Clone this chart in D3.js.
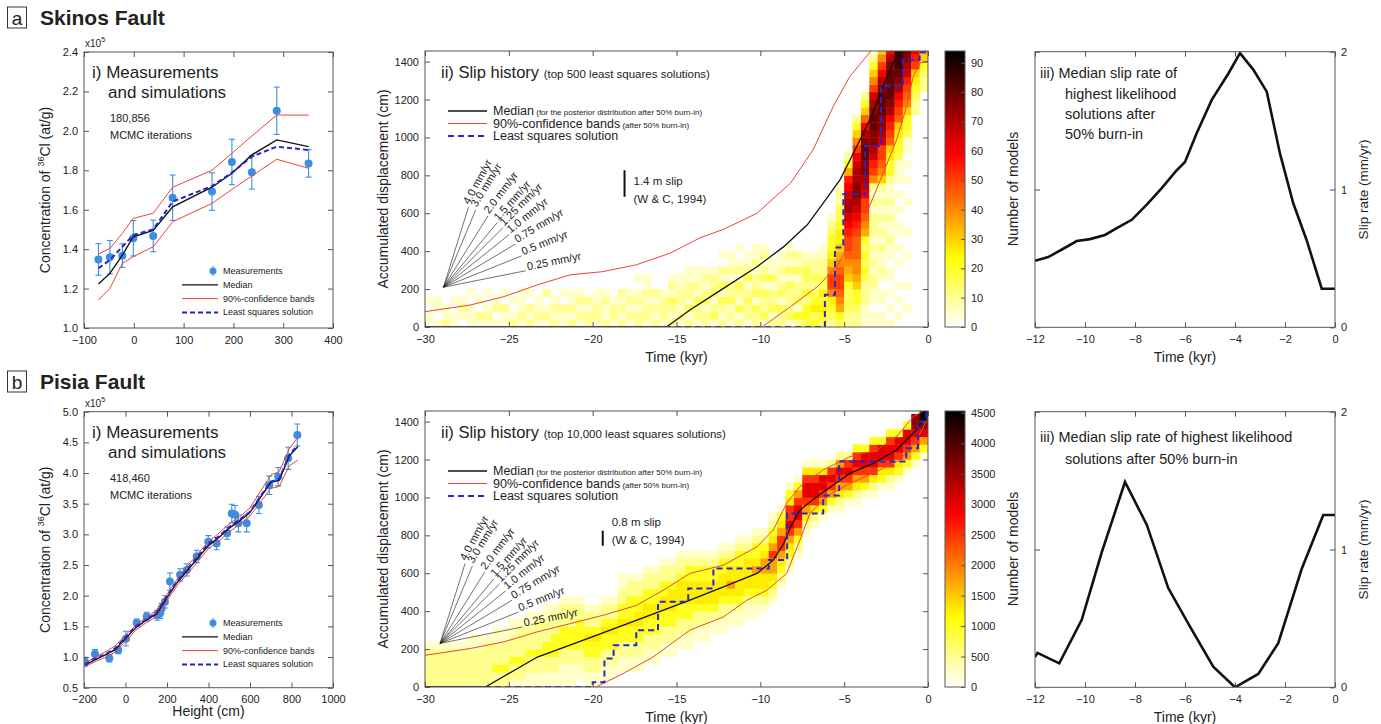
<!DOCTYPE html>
<html>
<head>
<meta charset="utf-8">
<script src="https://cdn.jsdelivr.net/npm/d3@7"></script>
<style>
  body { margin: 0; background: #fff; }
  svg text { font-family: "Liberation Sans", Arial, Helvetica, sans-serif; fill: #222; }
</style>
</head>
<body>
<svg id="fig" width="1381" height="724"></svg>
<script>
// ---------------- a) Skinos Fault ----------------
// i) 36Cl measurements
const skinosHeight = [-71, -48, -23, -1, 39, 78, 157, 197, 237, 287, 351];
const skinosConc   = [1.348, 1.359, 1.367, 1.455, 1.467, 1.661, 1.692, 1.842, 1.790, 2.102, 1.835];
const skinosErr    = [0.08, 0.085, 0.06, 0.09, 0.08, 0.115, 0.095, 0.115, 0.085, 0.12, 0.07];
// i) modelled concentration profiles
const skinosModelHeight = [-71, -48, -23, -1, 39, 78, 157, 197, 237, 287, 351];
const skinosMedian = [1.223, 1.277, 1.37, 1.463, 1.495, 1.615, 1.714, 1.785, 1.878, 1.954, 1.92];
const skinosLsq    = [1.303, 1.345, 1.412, 1.472, 1.50, 1.641, 1.72, 1.788, 1.869, 1.92, 1.903];
const skinosUpper  = [1.375, 1.404, 1.48, 1.556, 1.582, 1.714, 1.80, 1.886, 1.974, 2.08, 2.08];
const skinosLower  = [1.142, 1.201, 1.328, 1.362, 1.412, 1.539, 1.632, 1.703, 1.771, 1.856, 1.81];

// ii) slip history curves (time in kyr, displacement in cm)
const skinosMedT = [-30, -15.6, -14.2, -12.2, -10.2, -8.6, -7.2, -6.25, -5.25, -4.45, -3.47, -2.67, -2.08, -1.6];
const skinosMedV = [0, 0, 90, 204, 318, 424, 539, 653, 776, 917, 1093, 1269, 1393, 1456];
const skinosUpT  = [-30, -27.3, -25.3, -23.3, -21.35, -19.4, -17.4, -15.4, -13.6, -12.2, -10.2, -8.2, -6.85, -5.65, -4.66, -3.4];
const skinosUpV  = [81, 116, 160, 222, 275, 292, 328, 389, 470, 515, 600, 759, 935, 1164, 1322, 1456];
const skinosLoT  = [-30, -9.9, -8.2, -6.6, -5.45, -4.66, -3.66, -2.67, -1.87, -1.28, -0.88, -0.48, 0];
const skinosLoV  = [0, 0, 107, 213, 318, 442, 600, 812, 988, 1164, 1322, 1393, 1401];
const skinosLsqT = [-30, -6.15, -5.55, -5.05, -3.75, -2.8, -1.5, -0.5, 0];
const skinosLsqV = [0, 170, 420, 700, 955, 1270, 1410, 1450, 1450];

// ii) model counts: one entry per 0.5 kyr column from -30 kyr, "firstRow:levels";
// each level digit (base 36) is one 40 cm row, in units of 5 models
const skinosCounts = [
  "0:1101", "0:1011", "0:211", "0:1101", "0:0121", "0:11101", "0:1201", "0:12101", "0:1021", "0:11201",
  "0:2101", "0:12111", "0:21201", "0:1211", "0:12102", "0:2121", "0:11201", "0:21211", "0:12121", "0:2212",
  "0:12211", "0:21121", "0:1221", "0:21212", "0:12121", "0:2212101", "0:1221211", "0:21212", "0:12221", "0:2123121",
  "0:1212211", "0:21312211", "0:12231211", "0:22132121", "0:13213221", "0:2123131201", "0:1213221211", "0:21312312101", "0:1223213211", "0:22313221211",
  "0:13223132121", "0:213221311", "0:2231321211", "0:13222313121", "0:2413221312", "0:3442423321", "0:4354323221", "0:34545332211",
  "0:23458aa86544321",
  "0:34789aa987655433221",
  "0:2233346789aabcdeedcb742",
  "0:223446788999abcdeffeedca8642",
  "0:111222343434789aacdeffggfec9642",
  "0:11011221212122212128abdeffggfeda8642",
  "0:1101101211212121212689aadeffgggfeca86",
  "0:1010101101121121211244569abcefggggfec",
  "0:0101010010101101010111344569abcefghhh",
  "0:0010010001001000100101011344689abdefg",
  "28:223456abc", "31:223467"
];
const skinosCountUnit = 5;
const skinosCountMax = 94;
const skinosCbarTicks = [0, 10, 20, 30, 40, 50, 60, 70, 80, 90];

// iii) median slip rate
const skinosRateT = [-12, -11.47, -10.87, -10.33, -9.8, -9.2, -8.73, -8.13, -7.53, -6.93, -6.33, -6.0, -5.53, -4.93, -4.27, -3.8, -3.27, -2.73, -2.2, -1.67, -1.13, -0.53, 0];
const skinosRate  = [0.483, 0.51, 0.57, 0.626, 0.64, 0.67, 0.72, 0.78, 0.89, 1.01, 1.14, 1.20, 1.41, 1.65, 1.84, 1.99, 1.87, 1.71, 1.26, 0.90, 0.63, 0.28, 0.28];

// ---------------- b) Pisia Fault ----------------
const pisiaHeight = [-195, -147, -78, -35, 2, 54, 102, 153, 166, 174, 190, 214, 263, 295, 343, 399, 439, 490, 512, 528, 544, 584, 643, 693, 736, 784, 828];
const pisiaConc   = [0.924, 1.05, 0.98, 1.115, 1.30, 1.56, 1.66, 1.68, 1.71, 1.79, 1.90, 2.23, 2.34, 2.42, 2.64, 2.88, 2.85, 3.02, 3.34, 3.32, 3.18, 3.18, 3.48, 3.80, 3.94, 4.24, 4.62];
const pisiaErr    = [0.07, 0.07, 0.06, 0.06, 0.12, 0.06, 0.07, 0.08, 0.08, 0.08, 0.1, 0.14, 0.1, 0.1, 0.1, 0.1, 0.1, 0.1, 0.15, 0.15, 0.14, 0.14, 0.14, 0.15, 0.15, 0.18, 0.18];
const pisiaModelHeight = [-195, -150, -100, -50, 0, 50, 100, 150, 200, 250, 300, 350, 400, 450, 500, 550, 600, 650, 700, 740, 790, 830];
const pisiaMedian = [0.87, 0.95, 1.03, 1.12, 1.30, 1.48, 1.60, 1.70, 1.97, 2.22, 2.42, 2.62, 2.82, 2.95, 3.10, 3.22, 3.36, 3.60, 3.85, 3.88, 4.28, 4.43];
const pisiaLsq    = [0.88, 0.97, 1.04, 1.14, 1.32, 1.50, 1.61, 1.72, 1.99, 2.24, 2.44, 2.65, 2.85, 2.97, 3.12, 3.24, 3.37, 3.62, 3.86, 3.90, 4.30, 4.45];
const pisiaUpper  = [0.90, 0.99, 1.08, 1.18, 1.36, 1.52, 1.65, 1.76, 2.02, 2.28, 2.49, 2.69, 2.88, 3.02, 3.17, 3.29, 3.43, 3.70, 3.97, 4.02, 4.40, 4.58];
const pisiaLower  = [0.84, 0.92, 0.99, 1.08, 1.25, 1.44, 1.56, 1.66, 1.92, 2.17, 2.36, 2.56, 2.77, 2.89, 3.04, 3.16, 3.30, 3.52, 3.75, 3.78, 4.12, 4.21];

const pisiaMedT = [-30, -26.4, -23.3, -20.55, -17.4, -14.2, -12.2, -10.2, -9.23, -8.6, -8.2, -7.64, -6.64, -5.65, -4.66, -3.27, -1.87, -0.68, -0.08];
const pisiaMedV = [0, 0, 158, 247, 352, 458, 528, 599, 669, 757, 845, 933, 1004, 1066, 1127, 1180, 1250, 1356, 1444];
const pisiaUpT  = [-30, -27.3, -25.3, -23.3, -21.3, -19.3, -17.4, -15.8, -14.2, -12.2, -10.2, -9.23, -8.43, -7.64, -6.25, -4.66, -3.07, -1.87, -0.88, -0.3];
const pisiaUpV  = [167, 203, 238, 291, 335, 380, 430, 510, 599, 643, 740, 828, 969, 1057, 1145, 1215, 1250, 1321, 1426, 1456];
const pisiaLoT  = [-30, -19.8, -18.2, -16.4, -14.2, -12.2, -10.8, -9.6, -8.43, -7.64, -7.04, -6.05, -4.66, -3.07, -1.67, -0.68, 0];
const pisiaLoV  = [0, 0, 70, 158, 300, 370, 458, 511, 599, 775, 916, 1004, 1074, 1136, 1198, 1303, 1420];
const pisiaLsqT = [-30, -20.0, -19.3, -18.75, -17.4, -16.1, -14.3, -12.8, -9.5, -8.4, -6.25, -5.3, -1.3, -0.6, -0.1, 0];
const pisiaLsqV = [0, 25, 150, 220, 300, 450, 520, 625, 670, 915, 1010, 1190, 1260, 1400, 1450, 1450];

// model counts, level digits (base 36) in units of 250 models
const pisiaCounts = [
  "0:222221", "0:222221", "0:222221", "0:222221", "0:222221", "0:2222211", "0:2222211", "0:2222221", "0:22422211", "0:22422211",
  "0:122422211", "0:122422221", "0:1122422211", "0:1122422221", "0:11224422211", "0:11224442221", "0:111224442221", "0:111224442221", "0:011224444221", "0:11224454221",
  "0:11224454221", "1:11224454221", "1:11224454221", "2:1122445442211", "2:1122445444221", "2:1122445544221", "3:1122445544221", "3:1122445544221", "4:1122445544221", "4:1122445554221",
  "5:1122445554221", "5:1122445554421", "6:112245554421", "6:112245554421", "7:11245554421", "7:112245554421", "8:11245755421", "8:112455554421", "9:11245555421", "9:112455754421",
  "10:12455775421", "11:124577a75421", "13:12457aa7541", "15:12457acaa541", "17:1247acca741", "20:1257acca51", "21:125acca51", "22:147acc51", "23:147aca2", "23:1257ac72",
  "24:147aca2", "24:1257aca4", "25:147acc4", "25:125acca4", "26:145acc4", "26:125acca4", "27:145acc4", "28:147acc4", "29:147acee", "30:147ceii"
];
const pisiaCountUnit = 250;
const pisiaCountMax = 4530;
const pisiaCbarTicks = [0, 500, 1000, 1500, 2000, 2500, 3000, 3500, 4000, 4500];

const pisiaRateT = [-12, -11.9, -11.03, -10.13, -9.33, -8.4, -7.53, -6.67, -5.8, -4.87, -4.0, -3.07, -2.27, -1.33, -0.47, 0];
const pisiaRate  = [0.22, 0.25, 0.174, 0.49, 0.98, 1.49, 1.18, 0.72, 0.44, 0.15, 0.0, 0.097, 0.32, 0.86, 1.25, 1.25];

// reference slip-rate fan
const fanRates  = [4.0, 3.0, 2.0, 1.5, 1.25, 1.0, 0.75, 0.5, 0.25];
const fanLabels = ["4.0 mm/yr", "3.0 mm/yr", "2.0 mm/yr", "1.5 mm/yr", "1.25 mm/yr", "1.0 mm/yr", "0.75 mm/yr", "0.5 mm/yr", "0.25 mm/yr"];

// axis ticks
const slipTimeTicks = [-30, -25, -20, -15, -10, -5, 0];
const slipDispTicks = [0, 200, 400, 600, 800, 1000, 1200, 1400];
const rateTimeTicks = [-12, -10, -8, -6, -4, -2, 0];
const rateTicks = [0, 1, 2];
const skinosHeightTicks = [-100, 0, 100, 200, 300, 400];
const skinosConcTicks = [1.0, 1.2, 1.4, 1.6, 1.8, 2.0, 2.2, 2.4];
const pisiaHeightTicks = [-200, 0, 200, 400, 600, 800, 1000];
const pisiaConcTicks = [0.5, 1.0, 1.5, 2.0, 2.5, 3.0, 3.5, 4.0, 4.5, 5.0];

// ------------------------------------------------------------------
const svg = d3.select("#fig");
const defs = svg.append("defs");
const BIN_T0 = -30, BIN_DT = 0.5, BIN_DV = 40;
const FAN_ASPECT = 0.8, FAN_LEN = 84;
const RED = "#e8463c", BLUE = "#2626c9", DOT = "#3b8fe0";

// reversed "hot" colormap: white -> yellow -> red -> black
function hotR(t) {
  const s = 1 - Math.max(0, Math.min(1, t));
  const r = Math.min(1, s / 0.375);
  const g = Math.max(0, Math.min(1, (s - 0.375) / 0.375));
  const b = Math.max(0, Math.min(1, (s - 0.75) / 0.25));
  return d3.rgb(Math.round(r * 255), Math.round(g * 255), Math.round(b * 255)).toString();
}

function frame(g, xs, ys, o) {
  const [x0, x1] = xs.range(), [y0, y1] = ys.range();
  const ax = g.append("g");
  const xf = o.xf || d3.format("d"), yf = o.yf || d3.format("d");
  ax.append("g").attr("transform", `translate(0,${y0})`)
    .call(d3.axisBottom(xs).tickValues(o.xt).tickSize(-5).tickPadding(8).tickFormat(xf));
  ax.append("g").attr("transform", `translate(0,${y1})`)
    .call(d3.axisTop(xs).tickValues(o.xt).tickSize(-5).tickFormat(""));
  ax.append("g").attr("transform", `translate(${x0},0)`)
    .call(d3.axisLeft(ys).tickValues(o.yt).tickSize(-5).tickPadding(6).tickFormat(o.leftLabels === false ? "" : yf));
  ax.append("g").attr("transform", `translate(${x1},0)`)
    .call(d3.axisRight(ys).tickValues(o.yt).tickSize(-5).tickPadding(6).tickFormat(o.rightLabels ? yf : ""));
  ax.selectAll(".domain").remove();
  ax.selectAll(".tick line").attr("stroke", "#555");
  ax.selectAll(".tick text").attr("font-size", 11).attr("fill", "#222");
  g.append("rect").attr("x", x0).attr("y", y1).attr("width", x1 - x0).attr("height", y0 - y1)
    .attr("fill", "none").attr("stroke", "#555").attr("stroke-width", 1);
}

function clip(id, xs, ys) {
  const [x0, x1] = xs.range(), [y0, y1] = ys.range();
  defs.append("clipPath").attr("id", id).append("rect")
    .attr("x", x0).attr("y", y1).attr("width", x1 - x0).attr("height", y0 - y1);
  return `url(#${id})`;
}

function pathOf(xs, ys, X, Y, curve) {
  return d3.line().x((d, i) => xs(X[i])).y((d, i) => ys(Y[i])).curve(curve || d3.curveLinear)(X);
}

function rotLabel(g, x, y, txt, size) {
  return g.append("text").attr("transform", `translate(${x},${y}) rotate(-90)`)
    .attr("text-anchor", "middle").attr("font-size", size).text(txt);
}

function panelTag(letter, name, y) {
  svg.append("rect").attr("x", 7.5).attr("y", y - 18).attr("width", 19).attr("height", 21)
    .attr("fill", "none").attr("stroke", "#333").attr("stroke-width", 1);
  svg.append("text").attr("x", 17).attr("y", y).attr("text-anchor", "middle").attr("font-size", 19).text(letter);
  svg.append("text").attr("x", 40).attr("y", y).attr("font-size", 21).attr("font-weight", "bold").text(name);
}

// ---- i) concentration panel
function concPanel(cfg) {
  const g = svg.append("g");
  const xs = cfg.xs, ys = cfg.ys;
  const cp = clip(cfg.id, xs, ys);
  const inner = g.append("g").attr("clip-path", cp);
  const lines = [
    [cfg.lower, RED, 1, null], [cfg.upper, RED, 1, null],
    [cfg.median, "#111", 1.4, null], [cfg.lsq, BLUE, 2, "5,3"]
  ];
  cfg.h.forEach((h, i) => {
    const x = xs(h), ya = ys(cfg.c[i] - cfg.e[i]), yb = ys(cfg.c[i] + cfg.e[i]);
    inner.append("line").attr("x1", x).attr("x2", x).attr("y1", ya).attr("y2", yb).attr("stroke", DOT).attr("stroke-width", 1.1);
    inner.append("line").attr("x1", x - 3).attr("x2", x + 3).attr("y1", ya).attr("y2", ya).attr("stroke", DOT).attr("stroke-width", 1.1);
    inner.append("line").attr("x1", x - 3).attr("x2", x + 3).attr("y1", yb).attr("y2", yb).attr("stroke", DOT).attr("stroke-width", 1.1);
    inner.append("circle").attr("cx", x).attr("cy", ys(cfg.c[i])).attr("r", 4).attr("fill", DOT);
  });
  lines.forEach(([Y, col, w, dash]) => {
    inner.append("path").attr("d", pathOf(xs, ys, cfg.mh, Y)).attr("fill", "none")
      .attr("stroke", col).attr("stroke-width", w).attr("stroke-dasharray", dash);
  });
  frame(g, xs, ys, { xt: cfg.xt, yt: cfg.yt, yf: d3.format(".1f") });

  const x0 = xs.range()[0], y1 = ys.range()[1];
  const m = g.append("text").attr("x", x0 + 1).attr("y", y1 - 5).attr("font-size", 10).text("x10");
  m.append("tspan").attr("dy", -5).attr("font-size", 7).text("5");
  g.append("text").attr("x", 92).attr("y", cfg.ty).attr("font-size", 17).text("i) Measurements");
  g.append("text").attr("x", 108).attr("y", cfg.ty + 20).attr("font-size", 17).text("and simulations");
  g.append("text").attr("x", 110).attr("y", cfg.ty + 44).attr("font-size", 11).text(cfg.iter);
  g.append("text").attr("x", 110).attr("y", cfg.ty + 61).attr("font-size", 11).text("MCMC iterations");

  const yl = g.append("text").attr("transform", `translate(50,${(ys.range()[0] + y1) / 2}) rotate(-90)`)
    .attr("text-anchor", "middle").attr("font-size", 14).text("Concentration of ");
  yl.append("tspan").attr("dy", -6).attr("font-size", 9).text("36");
  yl.append("tspan").attr("dy", 6).text("Cl (at/g)");
  if (cfg.xlabel) g.append("text").attr("x", (xs.range()[0] + xs.range()[1]) / 2).attr("y", cfg.xlabelY)
    .attr("text-anchor", "middle").attr("font-size", 14).text(cfg.xlabel);

  // legend
  const ly = cfg.ly, lx0 = 182, lx1 = 218, tx = 223;
  g.append("line").attr("x1", 213).attr("x2", 213).attr("y1", ly - 5).attr("y2", ly + 5).attr("stroke", DOT);
  g.append("circle").attr("cx", 213).attr("cy", ly).attr("r", 3.5).attr("fill", DOT);
  const items = [["Measurements", null], ["Median", ["#111", 1.2, null]], ["90%-confidence bands", [RED, 1, null]], ["Least squares solution", [BLUE, 2, "5,3"]]];
  items.forEach(([t, st], i) => {
    const yy = ly + i * 13.8;
    if (st) g.append("line").attr("x1", lx0).attr("x2", lx1).attr("y1", yy).attr("y2", yy)
      .attr("stroke", st[0]).attr("stroke-width", st[1]).attr("stroke-dasharray", st[2]);
    g.append("text").attr("x", tx).attr("y", yy + 3).attr("font-size", 9).attr("fill", "#333").text(t);
  });
}

// ---- ii) slip history panel
function slipPanel(cfg) {
  const g = svg.append("g");
  const xs = cfg.xs, ys = cfg.ys;
  const cp = clip(cfg.id, xs, ys);
  const inner = g.append("g").attr("clip-path", cp);
  const color = v => hotR(v / cfg.max);

  cfg.counts.forEach((s, c) => {
    const [st, lv] = s.split(":");
    const t0 = BIN_T0 + c * BIN_DT;
    for (let k = 0; k < lv.length; k++) {
      const L = parseInt(lv[k], 36);
      const r = +st + k;
      if (!L || r < 0) continue;
      const v0 = r * BIN_DV;
      inner.append("rect").attr("x", xs(t0)).attr("y", ys(v0 + BIN_DV))
        .attr("width", xs(t0 + BIN_DT) - xs(t0) + 0.4).attr("height", ys(v0) - ys(v0 + BIN_DV) + 0.4)
        .attr("fill", color(L * cfg.unit));
    }
  });
  inner.append("path").attr("d", pathOf(xs, ys, cfg.upT, cfg.upV)).attr("fill", "none").attr("stroke", RED).attr("stroke-width", 1);
  inner.append("path").attr("d", pathOf(xs, ys, cfg.loT, cfg.loV)).attr("fill", "none").attr("stroke", RED).attr("stroke-width", 1);
  inner.append("path").attr("d", pathOf(xs, ys, cfg.medT, cfg.medV)).attr("fill", "none").attr("stroke", "#111").attr("stroke-width", 1.3);
  inner.append("path").attr("d", pathOf(xs, ys, cfg.lsqT, cfg.lsqV, d3.curveStepAfter)).attr("fill", "none")
    .attr("stroke", BLUE).attr("stroke-width", 2).attr("stroke-dasharray", "6,4");

  frame(g, xs, ys, { xt: slipTimeTicks, yt: slipDispTicks });

  const y0 = ys.range()[0], y1 = ys.range()[1];
  rotLabel(g, 388, (y0 + y1) / 2, "Accumulated displacement (cm)", 14);
  g.append("text").attr("x", (xs.range()[0] + xs.range()[1]) / 2).attr("y", y0 + 35).attr("text-anchor", "middle").attr("font-size", 14).text("Time (kyr)");

  const title = g.append("text").attr("x", 441).attr("y", y1 + 27).attr("font-size", 16.5).text("ii) Slip history ");
  title.append("tspan").attr("font-size", 11.5).text(cfg.sub);

  // legend
  const lg = [["Median", " (for the posterior distribution after 50% burn-in)", "#111", 1.3, null],
              ["90%-confidence bands", " (after 50% burn-in)", RED, 1.2, null],
              ["Least squares solution", "", BLUE, 2, "6,4"]];
  lg.forEach(([a, b, col, w, dash], i) => {
    const yy = y1 + 60 + i * 12.5;
    g.append("line").attr("x1", 448).attr("x2", 487).attr("y1", yy).attr("y2", yy)
      .attr("stroke", col).attr("stroke-width", w).attr("stroke-dasharray", dash);
    const t = g.append("text").attr("x", 493).attr("y", yy + 4).attr("font-size", 12.5).text(a);
    if (b) t.append("tspan").attr("font-size", 8).text(b);
  });

  // reference slip-rate fan
  const ox = xs(cfg.fanOrigin[0]), oy = ys(cfg.fanOrigin[1]);
  fanRates.forEach((r, i) => {
    const th = Math.atan(FAN_ASPECT * r);
    const ex = ox + FAN_LEN * Math.cos(th), ey = oy - FAN_LEN * Math.sin(th);
    g.append("line").attr("x1", ox).attr("y1", oy).attr("x2", ex).attr("y2", ey).attr("stroke", "#111").attr("stroke-width", 0.6);
    const deg = th * 180 / Math.PI;
    const ta = deg < 45 ? deg : 45 + (deg - 45) * 0.6;
    const lx = ox + (FAN_LEN + 2) * Math.cos(th), ly = oy - (FAN_LEN + 2) * Math.sin(th);
    g.append("text").attr("transform", `translate(${lx},${ly}) rotate(${-ta})`).attr("font-size", 11).text(fanLabels[i]);
  });

  // scale bar of a single earthquake slip
  const bx = xs(cfg.bar.t);
  g.append("line").attr("x1", bx).attr("x2", bx).attr("y1", ys(cfg.bar.base)).attr("y2", ys(cfg.bar.base + cfg.bar.metres * 100))
    .attr("stroke", "#111").attr("stroke-width", 2);
  g.append("text").attr("x", bx + 9).attr("y", cfg.bar.ty).attr("font-size", 11.5).text(cfg.bar.metres + " m slip");
  g.append("text").attr("x", bx + 9).attr("y", cfg.bar.ty + 18).attr("font-size", 11.5).text("(W & C, 1994)");

  // colour bar
  const gid = cfg.id + "-grad";
  const grad = defs.append("linearGradient").attr("id", gid).attr("x1", 0).attr("y1", 1).attr("x2", 0).attr("y2", 0);
  d3.range(0, 1.0001, 0.025).forEach(t => grad.append("stop").attr("offset", t).attr("stop-color", hotR(t)));
  const cx0 = 945, cw = 20;
  const cs = d3.scaleLinear([0, cfg.max], [y0, y1]);
  g.append("rect").attr("x", cx0).attr("y", y1).attr("width", cw).attr("height", y0 - y1)
    .attr("fill", `url(#${gid})`).attr("stroke", "#555");
  const ca = g.append("g").attr("transform", `translate(${cx0 + cw},0)`)
    .call(d3.axisRight(cs).tickValues(cfg.cticks).tickSize(-4).tickPadding(6).tickFormat(d3.format("d")));
  ca.select(".domain").remove();
  ca.selectAll(".tick line").attr("stroke", "#555");
  ca.selectAll(".tick text").attr("font-size", 11).attr("fill", "#222");
  rotLabel(g, 1018, (y0 + y1) / 2, "Number of models", 14);
}

// ---- iii) slip-rate panel
function ratePanel(cfg) {
  const g = svg.append("g");
  const xs = cfg.xs, ys = cfg.ys;
  const cp = clip(cfg.id, xs, ys);
  g.append("g").attr("clip-path", cp).append("path").attr("d", pathOf(xs, ys, cfg.t, cfg.r))
    .attr("fill", "none").attr("stroke", "#111").attr("stroke-width", 2.6).attr("stroke-linejoin", "miter");
  frame(g, xs, ys, { xt: rateTimeTicks, yt: rateTicks, leftLabels: false, rightLabels: true });
  const y0 = ys.range()[0], y1 = ys.range()[1];
  g.append("text").attr("x", (xs.range()[0] + xs.range()[1]) / 2).attr("y", y0 + 35).attr("text-anchor", "middle").attr("font-size", 14).text("Time (kyr)");
  rotLabel(g, 1368, (y0 + y1) / 2, "Slip rate (mm/yr)", 13.5);
  cfg.lines.forEach((s, i) => {
    g.append("text").attr("x", i === 0 ? 1040 : 1065).attr("y", cfg.ly[i]).attr("font-size", 14.5).text(s);
  });
}

// ---------------- draw ----------------
panelTag("a", "Skinos Fault", 25);
panelTag("b", "Pisia Fault", 389);

concPanel({
  id: "cA", xs: d3.scaleLinear([-100, 400], [84, 333]), ys: d3.scaleLinear([1.0, 2.4], [328, 52]),
  h: skinosHeight, c: skinosConc, e: skinosErr, mh: skinosModelHeight,
  median: skinosMedian, lsq: skinosLsq, upper: skinosUpper, lower: skinosLower,
  xt: skinosHeightTicks, yt: skinosConcTicks, iter: "180,856", ty: 78, ly: 271
});
concPanel({
  id: "cB", xs: d3.scaleLinear([-200, 1000], [84, 333]), ys: d3.scaleLinear([0.5, 5.0], [687.7, 411.7]),
  h: pisiaHeight, c: pisiaConc, e: pisiaErr, mh: pisiaModelHeight,
  median: pisiaMedian, lsq: pisiaLsq, upper: pisiaUpper, lower: pisiaLower,
  xt: pisiaHeightTicks, yt: pisiaConcTicks, iter: "418,460", ty: 438, ly: 623,
  xlabel: "Height (cm)", xlabelY: 716
});

slipPanel({
  id: "sA", xs: d3.scaleLinear([-30, 0], [425, 928]), ys: d3.scaleLinear([0, 1456], [327, 51]),
  counts: skinosCounts, unit: skinosCountUnit, max: skinosCountMax, cticks: skinosCbarTicks,
  medT: skinosMedT, medV: skinosMedV, upT: skinosUpT, upV: skinosUpV, loT: skinosLoT, loV: skinosLoV,
  lsqT: skinosLsqT, lsqV: skinosLsqV, sub: "(top 500 least squares solutions)",
  fanOrigin: [-28.9, 210], bar: { t: -18.1, base: 687, metres: 1.4, ty: 185 }
});
slipPanel({
  id: "sB", xs: d3.scaleLinear([-30, 0], [425, 928]), ys: d3.scaleLinear([0, 1456], [687, 411]),
  counts: pisiaCounts, unit: pisiaCountUnit, max: pisiaCountMax, cticks: pisiaCbarTicks,
  medT: pisiaMedT, medV: pisiaMedV, upT: pisiaUpT, upV: pisiaUpV, loT: pisiaLoT, loV: pisiaLoV,
  lsqT: pisiaLsqT, lsqV: pisiaLsqV, sub: "(top 10,000 least squares solutions)",
  fanOrigin: [-29.1, 230], bar: { t: -19.4, base: 745, metres: 0.8, ty: 526 }
});

ratePanel({
  id: "rA", xs: d3.scaleLinear([-12, 0], [1035, 1335]), ys: d3.scaleLinear([0, 2], [327.3, 51.7]),
  t: skinosRateT, r: skinosRate,
  lines: ["iii) Median slip rate of", "highest likelihood", "solutions after", "50% burn-in"], ly: [78, 99, 119, 139]
});
ratePanel({
  id: "rB", xs: d3.scaleLinear([-12, 0], [1035, 1335]), ys: d3.scaleLinear([0, 2], [687.3, 411.7]),
  t: pisiaRateT, r: pisiaRate,
  lines: ["iii) Median slip rate of highest likelihood", "solutions after 50% burn-in"], ly: [442, 464]
});
</script>
</body>
</html>
